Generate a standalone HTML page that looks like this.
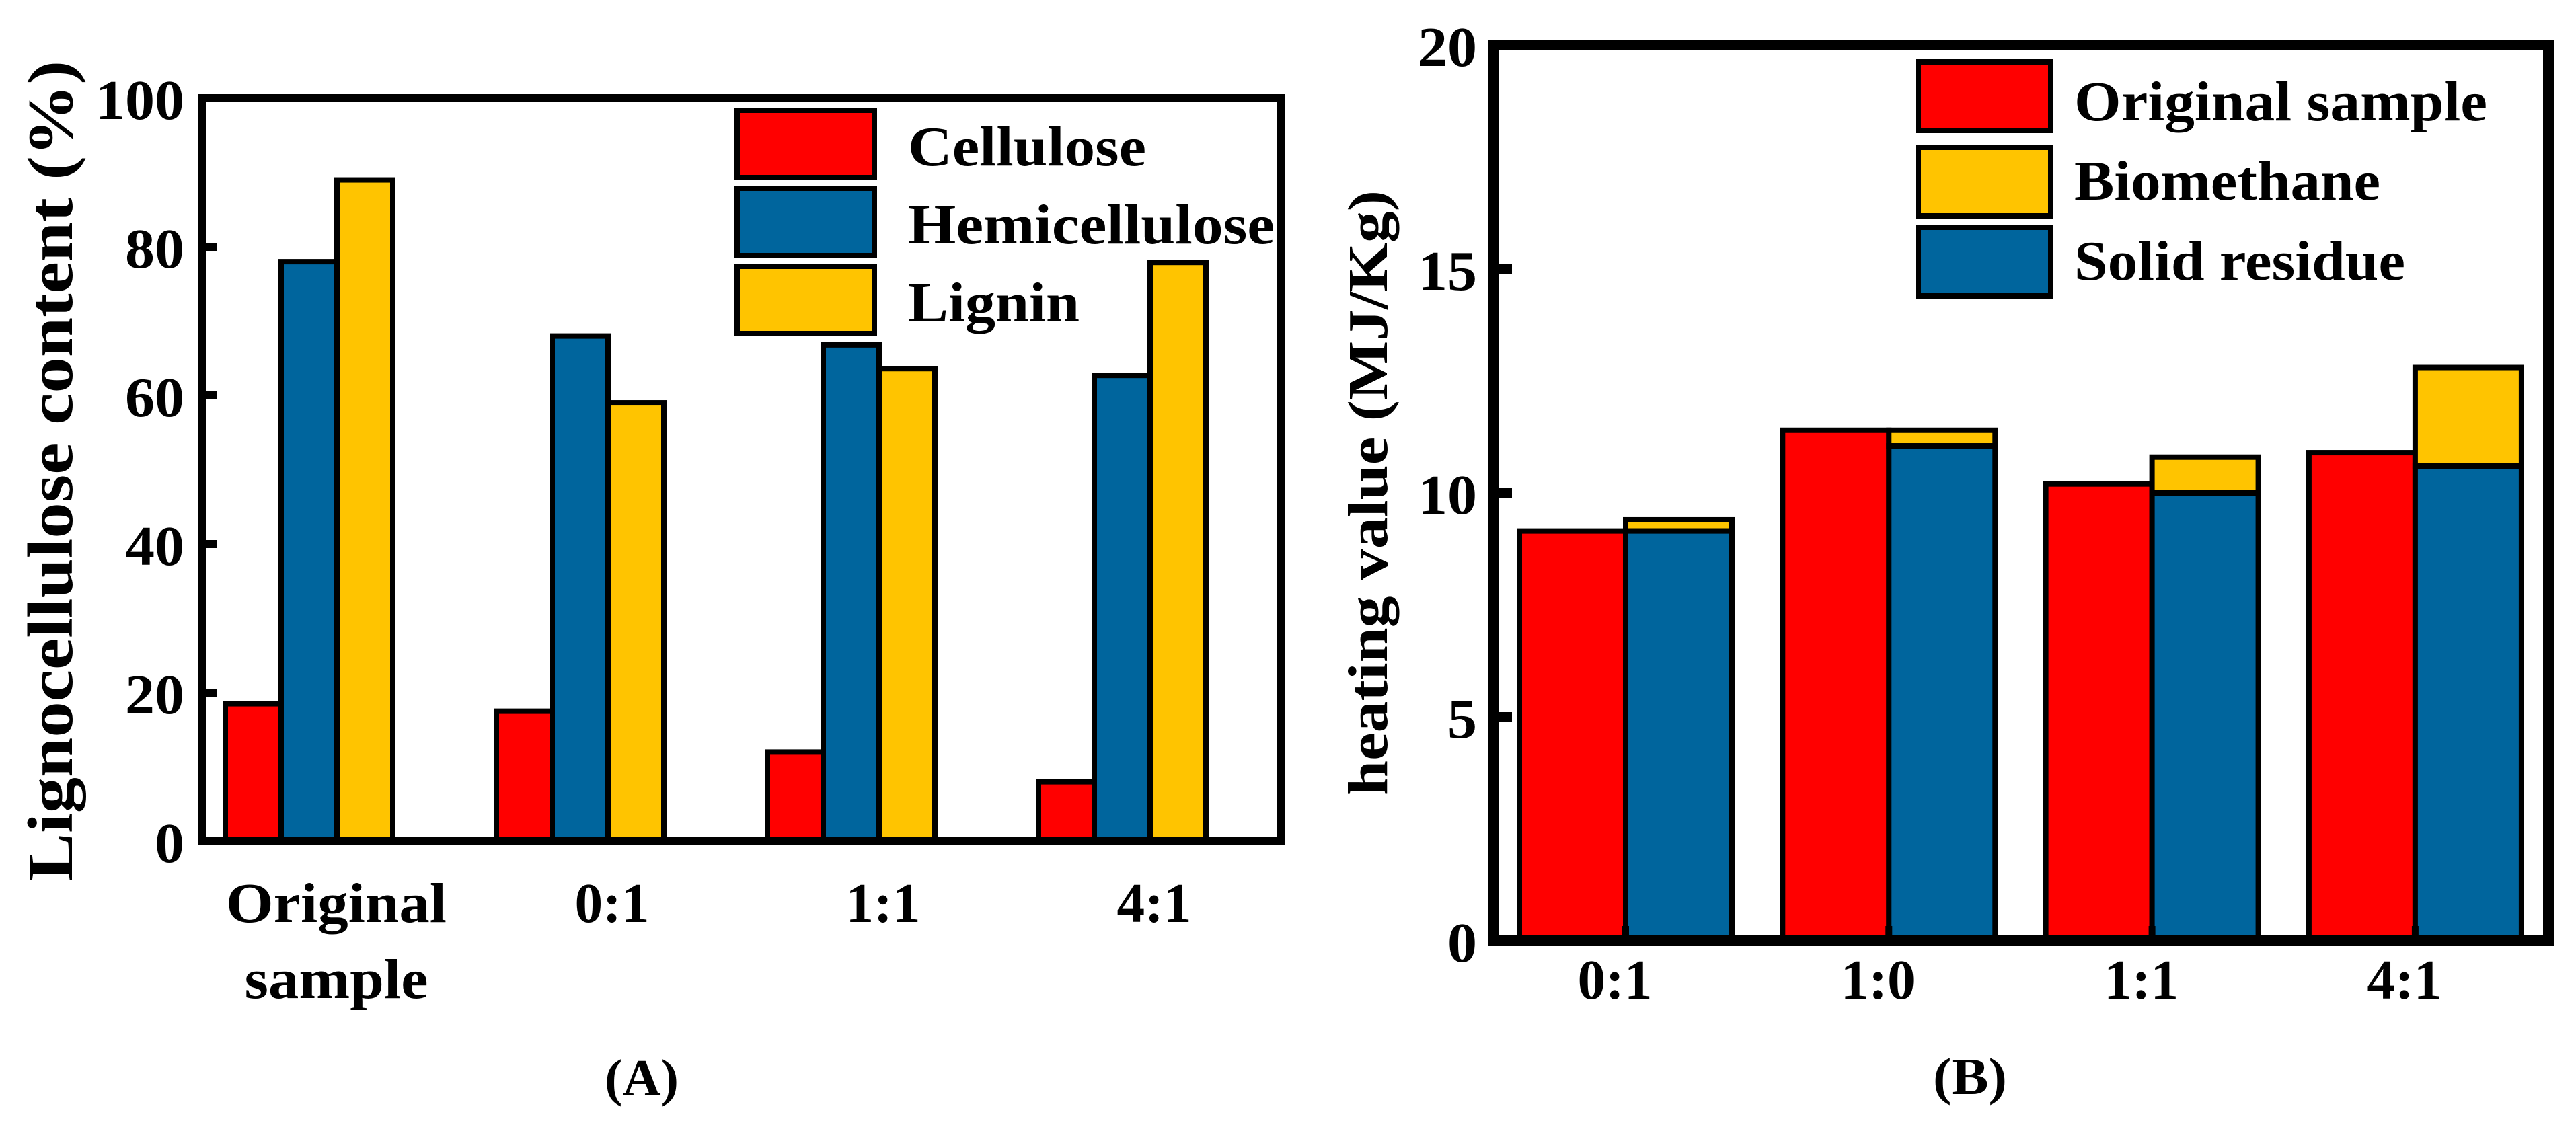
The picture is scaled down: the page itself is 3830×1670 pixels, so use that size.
<!DOCTYPE html>
<html><head><meta charset="utf-8"><style>
html,body{margin:0;padding:0;background:#fff;font-family:'Liberation Serif',serif;}
svg{display:block;}
svg text{font-family:'Liberation Serif',serif;font-weight:bold;}
</style></head><body>
<svg id="fig" width="3830" height="1670" viewBox="0 0 3830 1670" xmlns="http://www.w3.org/2000/svg">
<g id="chartA"></g>
<g id="chartB"></g>
</svg>
<script>
// Chart A data
const catsA = ["Original|sample", "0:1", "1:1", "4:1"];
const celluloseA = [18.5, 17.5, 12, 8];
const hemiA = [78, 68, 66.8, 62.7];
const ligninA = [89, 59, 63.6, 77.9];
const ticksA = [0, 20, 40, 60, 80, 100];
// Chart B data
const catsB = ["0:1", "1:0", "1:1", "4:1"];
const originalB = [9.15, 11.4, 10.2, 10.9];
const solidB = [9.15, 11.05, 10.0, 10.6];
const biomethaneB = [0.25, 0.35, 0.8, 2.2];
const ticksB = [0, 5, 10, 15, 20];

const NS = "http://www.w3.org/2000/svg";
const RED = "#ff0000", BLUE = "#00659d", YEL = "#ffc400";
function mk(parent, tag, attrs, text, tl) {
  const e = document.createElementNS(NS, tag);
  for (const k in attrs) e.setAttribute(k, attrs[k]);
  if (tag === 'text') {
    e.setAttribute('font-family', 'Liberation Serif, serif');
    e.setAttribute('font-weight', 'bold');
    if (tl) { e.setAttribute('textLength', tl); e.setAttribute('lengthAdjust', 'spacingAndGlyphs'); }
  }
  if (text !== undefined) e.textContent = text;
  parent.appendChild(e);
  return e;
}
const numW = s => s.replace(/[^0-9]/g, '').length * 44;
const catW = s => ({ 'Original': 328, 'sample': 273 }[s] || 111);

// ---------- Chart A ----------
(function () {
  const g = document.getElementById('chartA');
  const L = 300, R = 1905, T = 146, B = 1251;
  const yA = v => B - (v - 0) / 100 * (B - T);
  const tickX = i => 501 + i * 403;
  const bw = 83;
  const series = [[celluloseA, RED, 'cellulose', -2], [hemiA, BLUE, 'hemicellulose', -1], [ligninA, YEL, 'lignin', 0]];
  catsA.forEach((c, i) => {
    series.forEach(s => {
      const x = tickX(i) + s[3] * bw;
      const r = mk(g, 'rect', { x: x, y: yA(s[0][i]), width: bw, height: B - yA(s[0][i]), fill: s[1], stroke: '#000', 'stroke-width': 8 });
      
      
    });
  });
  const f = mk(g, 'rect', { x: L, y: T, width: R - L, height: B - T, fill: 'none', stroke: '#000', 'stroke-width': 12 });
  
  
  ticksA.forEach(t => {
    const tk = mk(g, 'line', { x1: L, x2: L + 22, y1: yA(t), y2: yA(t), stroke: '#000', 'stroke-width': 12 });
    
    
    const lb = mk(g, 'text', { x: 274, y: yA(t) + 31, 'text-anchor': 'end', 'font-size': 84 }, String(t), numW(String(t)));
    
    
  });
  catsA.forEach((c, i) => {
    const tk = mk(g, 'line', { x1: tickX(i), x2: tickX(i), y1: B, y2: B - 14, stroke: '#000', 'stroke-width': 8 });
    
    
    const parts = c.split('|');
    parts.forEach((p, j) => {
      const lb = mk(g, 'text', { x: tickX(i) + (i === 0 ? -1 : 6), y: 1371 + j * 113, 'text-anchor': 'middle', 'font-size': 84 }, p, catW(p));
      
      
    });
  });
  const yt = mk(g, 'text', { x: 0, y: 0, 'text-anchor': 'middle', 'font-size': 95, transform: 'translate(107,700) rotate(-90)' }, 'Lignocellulose content (%)', 1220);
  
  
  const names = ['Cellulose', 'Hemicellulose', 'Lignin'], cols = [RED, BLUE, YEL], widths = [354, 545, 255];
  names.forEach((n, j) => {
    const y0 = 160 + j * 116;
    const r = mk(g, 'rect', { x: 1096, y: y0 + 4, width: 204, height: 100, fill: cols[j], stroke: '#000', 'stroke-width': 8 });
    
    
    const t = mk(g, 'text', { x: 1350, y: 246 + j * 116, 'font-size': 84 }, n, widths[j]);
    
    
  });
  const cap = mk(g, 'text', { x: 954, y: 1629, 'text-anchor': 'middle', 'font-size': 77 }, '(A)', 110);
  
  
})();

// ---------- Chart B ----------
(function () {
  const g = document.getElementById('chartB');
  const L = 2220, R = 3789, T = 67, B = 1399;
  const yB = v => B - v / 20 * (B - T);
  const tickX = i => 2417 + i * 391.3;
  const bw = 158;
  catsB.forEach((c, i) => {
    const x0 = tickX(i);
    const r1 = mk(g, 'rect', { x: x0 - bw, y: yB(originalB[i]), width: bw, height: B - yB(originalB[i]), fill: RED, stroke: '#000', 'stroke-width': 8 });
    
    
    const top = solidB[i] + biomethaneB[i];
    const r3 = mk(g, 'rect', { x: x0, y: yB(top), width: bw, height: yB(solidB[i]) - yB(top), fill: YEL, stroke: '#000', 'stroke-width': 8 });
    
    
    const r2 = mk(g, 'rect', { x: x0, y: yB(solidB[i]), width: bw, height: B - yB(solidB[i]), fill: BLUE, stroke: '#000', 'stroke-width': 8 });
    
    
  });
  const f = mk(g, 'rect', { x: L, y: T, width: R - L, height: B - T, fill: 'none', stroke: '#000', 'stroke-width': 16 });
  
  
  ticksB.forEach(t => {
    const tk = mk(g, 'line', { x1: L, x2: L + 28, y1: yB(t), y2: yB(t), stroke: '#000', 'stroke-width': 14 });
    
    
    const lb = mk(g, 'text', { x: 2196, y: yB(t) + 31, 'text-anchor': 'end', 'font-size': 84 }, String(t), numW(String(t)));
    
    
  });
  catsB.forEach((c, i) => {
    const tk = mk(g, 'line', { x1: tickX(i), x2: tickX(i), y1: B, y2: B - 22, stroke: '#000', 'stroke-width': 10 });
    
    
    const lb = mk(g, 'text', { x: tickX(i) - 16, y: 1485, 'text-anchor': 'middle', 'font-size': 84 }, c, 111);
    
    
  });
  const yt = mk(g, 'text', { x: 0, y: 0, 'text-anchor': 'middle', 'font-size': 84, transform: 'translate(2062,733) rotate(-90)' }, 'heating value (MJ/Kg)', 900);
  
  
  const names = ['Original sample', 'Biomethane', 'Solid residue'], cols = [RED, YEL, BLUE], widths = [614, 455, 492];
  const ys = [88, 215, 334], bl = [179, 297, 416];
  names.forEach((n, j) => {
    const r = mk(g, 'rect', { x: 2852, y: ys[j] + 4, width: 197, height: 102, fill: cols[j], stroke: '#000', 'stroke-width': 8 });
    
    
    const t = mk(g, 'text', { x: 3084, y: bl[j], 'font-size': 84 }, n, widths[j]);
    
    
  });
  const cap = mk(g, 'text', { x: 2929, y: 1627, 'text-anchor': 'middle', 'font-size': 77 }, '(B)', 110);
  
  
})();
</script>
</body></html>
